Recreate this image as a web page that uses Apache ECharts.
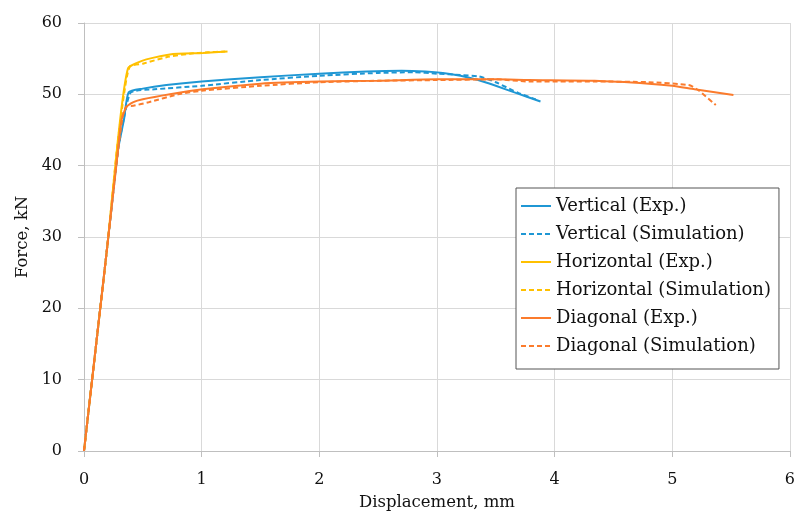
<!DOCTYPE html>
<html>
<head>
<meta charset="utf-8">
<script src="https://cdn.jsdelivr.net/npm/echarts@6/dist/echarts.min.js"></script>
<style>
  html, body { margin: 0; padding: 0; background: #fff; }
  #main { width: 798px; height: 516px; }
</style>
</head>
<body>
<div id="main"></div>
<script>
// 力-位移曲线数据 (mm, kN)
var vertExpX = [0, 0.1, 0.2, 0.29, 0.34, 0.38, 0.5, 0.7, 1.0, 1.5, 2.0, 2.4, 2.7, 2.9, 3.05, 3.2, 3.35, 3.5, 3.67, 3.88];
var vertExpY = [0, 14.5, 29, 42.3, 46.5, 50.3, 50.8, 51.3, 51.8, 52.4, 52.9, 53.2, 53.3, 53.2, 53.0, 52.6, 52.0, 51.2, 50.2, 49.0];

var vertSimX = [0, 0.1, 0.2, 0.29, 0.35, 0.4, 0.6, 1.0, 1.5, 2.0, 2.5, 2.8, 3.0, 3.2, 3.36, 3.5, 3.69, 3.84];
var vertSimY = [0, 14.5, 29, 42.3, 47.5, 50.3, 50.7, 51.2, 52.0, 52.6, 53.0, 53.1, 52.9, 52.7, 52.5, 51.7, 50.2, 49.3];

var horExpX = [0, 0.1, 0.2, 0.28, 0.33, 0.376, 0.45, 0.53, 0.73, 1.01, 1.22];
var horExpY = [0, 14.5, 29, 42.3, 49.5, 53.7, 54.4, 54.9, 55.6, 55.8, 56.0];

var horSimX = [0, 0.1, 0.2, 0.28, 0.34, 0.39, 0.5, 0.7, 0.9, 1.05, 1.2];
var horSimY = [0, 14.5, 29, 42.3, 50, 53.9, 54.3, 55.2, 55.7, 55.9, 56.0];

var diagExpX = [0, 0.1, 0.2, 0.29, 0.32, 0.36, 0.42, 0.5, 0.73, 1.01, 1.5, 2.0, 2.5, 3.0, 3.5, 3.78, 4.34, 4.8, 5.0, 5.19, 5.52];
var diagExpY = [0, 14.5, 29, 42.3, 46.5, 48.2, 48.9, 49.3, 50.0, 50.7, 51.5, 51.8, 51.9, 52.1, 52.1, 52.0, 51.9, 51.5, 51.2, 50.7, 49.9];

var diagSimX = [0, 0.1, 0.2, 0.29, 0.33, 0.36, 0.42, 0.55, 0.8, 1.0, 1.5, 2.0, 2.5, 3.0, 3.5, 3.78, 4.34, 4.8, 5.14, 5.22, 5.37];
var diagSimY = [0, 14.5, 29, 42.3, 47, 48.3, 48.4, 48.9, 50.0, 50.5, 51.2, 51.7, 51.9, 52.0, 52.1, 51.8, 51.8, 51.7, 51.3, 50.6, 48.5];

var seriesNames = ['Vertical (Exp.)', 'Vertical (Simulation)', 'Horizontal (Exp.)',
                   'Horizontal (Simulation)', 'Diagonal (Exp.)', 'Diagonal (Simulation)'];

var BLUE = '#1f97d4', YELLOW = '#ffc000', ORANGE = '#fb7b2c';
var FONT = 'DejaVu Serif';

function pairs(xs, ys) {
    var out = [];
    for (var i = 0; i < xs.length; i++) out.push([xs[i], ys[i]]);
    return out;
}

function lineSeries(name, xs, ys, color, dashed) {
    return {
        name: name,
        type: 'line',
        data: pairs(xs, ys),
        showSymbol: false,
        symbol: 'none',
        smooth: 0.2,
        lineStyle: { color: color, width: 2, type: dashed ? [5, 3] : 'solid' },
        itemStyle: { color: color }
    };
}

var myChart = echarts.init(document.getElementById('main'));
myChart.setOption({
    animation: false,
    grid: { left: 84, right: 6, top: 23, bottom: 62 },
    legend: {
        orient: 'vertical',
        left: 516,
        top: 188,
        data: seriesNames,
        padding: [9, 8, 14, 4],
        itemWidth: 30,
        itemHeight: 18,
        itemGap: 10,
        borderColor: '#555',
        borderWidth: 1,
        backgroundColor: '#fff',
        itemStyle: { opacity: 0 },   // 只显示线, 不显示圆点
        textStyle: { fontFamily: FONT, fontSize: 18, color: '#111' }
    },
    xAxis: {
        type: 'value',
        min: 0, max: 6, interval: 1,
        name: 'Displacement, mm',
        nameLocation: 'middle',
        nameGap: 43,
        nameTextStyle: { fontFamily: FONT, fontSize: 16.5, color: '#111' },
        axisLine: { show: true, lineStyle: { color: '#bfbfbf' } },
        axisTick: { show: true, length: 6, lineStyle: { color: '#bfbfbf' } },
        axisLabel: { fontFamily: FONT, fontSize: 16, color: '#111', margin: 21 },
        splitLine: { show: true, lineStyle: { color: '#d9d9d9' } }
    },
    yAxis: {
        type: 'value',
        min: 0, max: 60, interval: 10,
        name: 'Force, kN',
        nameLocation: 'middle',
        nameGap: 52,
        nameTextStyle: { fontFamily: FONT, fontSize: 16.5, color: '#111' },
        axisLine: { show: true, lineStyle: { color: '#bfbfbf' } },
        axisTick: { show: true, length: 6, lineStyle: { color: '#bfbfbf' } },
        axisLabel: { fontFamily: FONT, fontSize: 16, color: '#111', margin: 22 },
        splitLine: { show: true, lineStyle: { color: '#d9d9d9' } }
    },
    series: [
        lineSeries(seriesNames[0], vertExpX, vertExpY, BLUE, false),
        lineSeries(seriesNames[1], vertSimX, vertSimY, BLUE, true),
        lineSeries(seriesNames[2], horExpX, horExpY, YELLOW, false),
        lineSeries(seriesNames[3], horSimX, horSimY, YELLOW, true),
        lineSeries(seriesNames[4], diagExpX, diagExpY, ORANGE, false),
        lineSeries(seriesNames[5], diagSimX, diagSimY, ORANGE, true)
    ]
});
</script>
</body>
</html>
